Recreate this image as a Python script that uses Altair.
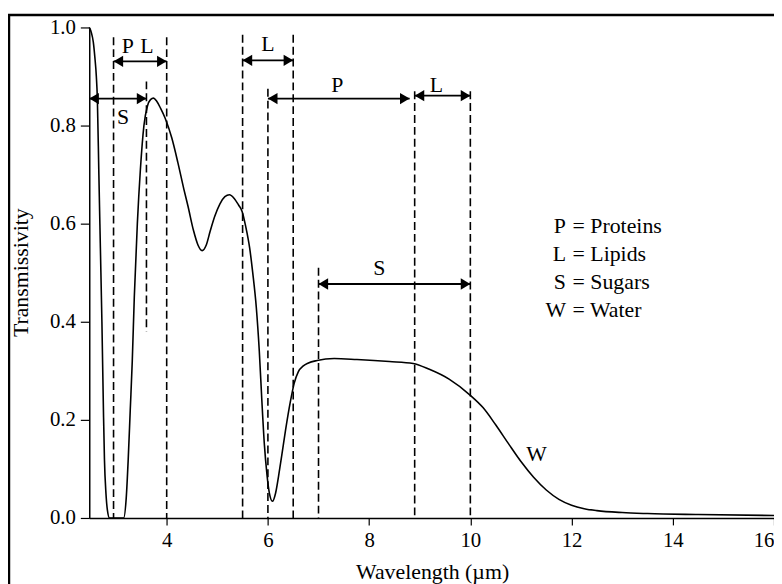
import altair as alt
import pandas as pd

# ---- curve W (water transmissivity) ----
wavelength = [2.47, 2.51, 2.55, 2.58, 2.61, 2.63, 2.66, 2.69, 2.72, 2.75, 2.77, 2.80, 2.83, 2.87,
              3.15, 3.20, 3.24, 3.28, 3.32, 3.36, 3.42, 3.48, 3.55, 3.62, 3.68, 3.74, 3.80, 3.88,
              3.97, 4.10, 4.22, 4.34, 4.42, 4.53, 4.62, 4.70, 4.78, 4.86, 4.95, 5.05, 5.15, 5.24,
              5.33, 5.42, 5.49, 5.56, 5.64, 5.70, 5.77, 5.83, 5.88, 5.93, 5.98, 6.03, 6.09, 6.15,
              6.21, 6.27, 6.35, 6.44, 6.52, 6.60, 6.70, 6.80, 6.97, 7.31, 7.76, 8.40, 8.87, 9.19,
              9.58, 10.0, 10.25, 10.5, 10.75, 11.0, 11.25, 11.5, 11.75, 12.0, 12.25, 12.5, 13.0,
              13.5, 14.5, 16.0]
transmissivity = [1.0, 0.99, 0.97, 0.94, 0.90, 0.855, 0.70, 0.55, 0.40, 0.22, 0.12, 0.05, 0.015, 0.0,
                  0.0, 0.04, 0.12, 0.22, 0.32, 0.45, 0.60, 0.71, 0.80, 0.84, 0.853, 0.856, 0.85, 0.835,
                  0.815, 0.775, 0.725, 0.67, 0.636, 0.586, 0.556, 0.545, 0.556, 0.585, 0.615, 0.64, 0.655, 0.659,
                  0.652, 0.638, 0.625, 0.595, 0.55, 0.50, 0.43, 0.34, 0.24, 0.15, 0.09, 0.05, 0.034, 0.05,
                  0.085, 0.125, 0.18, 0.235, 0.275, 0.298, 0.31, 0.316, 0.321, 0.325, 0.323, 0.319, 0.315, 0.303,
                  0.283, 0.250, 0.225, 0.19, 0.152, 0.115, 0.083, 0.057, 0.038, 0.026, 0.019, 0.015, 0.011,
                  0.009, 0.007, 0.005]

x_ticks = [4, 6, 8, 10, 12, 14, 16]
y_ticks = [0.0, 0.2, 0.4, 0.6, 0.8, 1.0]

# ---- dashed band limits ----
dash_x = [2.95, 3.6, 4.0, 5.5, 6.0, 6.5, 7.0, 8.9, 10.0]
dash_top = [0.98, 0.89, 0.98, 0.985, 0.875, 0.985, 0.51, 0.87, 0.87]
dash_bottom = [0.0, 0.38, 0.0, 0.0, 0.0, 0.0, 0.0, 0.0, 0.0]

# ---- double arrows ----
arrow_x1 = [2.95, 2.47, 5.5, 6.0, 8.9, 7.0]
arrow_x2 = [4.0, 3.6, 6.5, 8.8, 10.0, 10.0]
arrow_y = [0.931, 0.855, 0.933, 0.855, 0.861, 0.477]

# ---- band labels ----
label_text = ["P", "L", "S", "L", "P", "L", "S", "W"]
label_x = [3.23, 3.61, 3.14, 6.0, 7.37, 9.33, 8.2, 11.31]
label_y = [0.963, 0.963, 0.818, 0.966, 0.882, 0.882, 0.509, 0.131]

# ---- key ----
key_symbol = ["P", "L", "S", "W"]
key_name = ["= Proteins", "= Lipids", "= Sugars", "= Water"]
key_y = [0.596, 0.539, 0.481, 0.424]
key_sym_x = 11.89
key_name_x = 12.02

FONT = "Liberation Serif"

curve_df = pd.DataFrame({"x": wavelength, "y": transmissivity})
dash_df = pd.DataFrame({"x": dash_x, "y": dash_top, "y2": dash_bottom})
arrow_df = pd.DataFrame({"x1": arrow_x1, "x2": arrow_x2, "y": arrow_y})
label_df = pd.DataFrame({"t": label_text, "x": label_x, "y": label_y})
key_df = pd.DataFrame({"s": key_symbol, "n": key_name, "y": key_y,
                       "xs": [key_sym_x] * 4, "xn": [key_name_x] * 4})

xscale = alt.Scale(domain=[2.47, 16], nice=False, zero=False)
yscale = alt.Scale(domain=[0, 1], nice=False)

xaxis = alt.Axis(values=x_ticks, format="d", title="Wavelength (µm)", grid=False,
                 tickSize=7, labelPadding=5, labelFontSize=21, labelFont=FONT,
                 titleFont=FONT, titleFontSize=22, titleFontWeight="normal",
                 titleBaseline="alphabetic", titleY=61, titleX=346, titleAlign="center",
                 domainColor="black", tickColor="black", labelColor="black", titleColor="black",
                 domainWidth=1.5, tickWidth=1.2)
yaxis = alt.Axis(values=y_ticks, format=".1f", title="Transmissivity", grid=False,
                 tickSize=9, labelPadding=5, labelFontSize=21, labelFont=FONT,
                 titleFont=FONT, titleFontSize=22, titleFontWeight="normal",
                 titleAngle=270, titleBaseline="alphabetic", titleX=-62, titleY=247,
                 titleAlign="center",
                 domainColor="black", tickColor="black", labelColor="black", titleColor="black",
                 domainWidth=1.5, tickWidth=1.2)

curve = alt.Chart(curve_df).mark_line(color="black", strokeWidth=1.6, interpolate="monotone").encode(
    x=alt.X("x:Q", scale=xscale, axis=xaxis),
    y=alt.Y("y:Q", scale=yscale, axis=yaxis),
)

dashes = alt.Chart(dash_df).mark_rule(color="black", strokeWidth=1.6, strokeDash=[8, 4]).encode(
    x="x:Q", y="y:Q", y2="y2:Q"
)

arrow_lines = alt.Chart(arrow_df).mark_rule(color="black", strokeWidth=1.8).encode(
    x="x1:Q", x2="x2:Q", y="y:Q"
)
head_right = alt.Chart(arrow_df).mark_point(
    shape="M0,0L-1.7,-1L-1.7,1Z", filled=True, color="black", opacity=1, size=130, strokeWidth=0
).encode(x="x2:Q", y="y:Q")
head_left = alt.Chart(arrow_df).mark_point(
    shape="M0,0L1.7,-1L1.7,1Z", filled=True, color="black", opacity=1, size=130, strokeWidth=0
).encode(x="x1:Q", y="y:Q")

labels = alt.Chart(label_df).mark_text(font=FONT, fontSize=22, color="black",
                                       baseline="middle", align="center").encode(
    x="x:Q", y="y:Q", text="t:N"
)

key_sym = alt.Chart(key_df).mark_text(font=FONT, fontSize=22, color="black",
                                      baseline="middle", align="right").encode(
    x="xs:Q", y="y:Q", text="s:N"
)
key_txt = alt.Chart(key_df).mark_text(font=FONT, fontSize=22, color="black",
                                      baseline="middle", align="left").encode(
    x="xn:Q", y="y:Q", text="n:N"
)

frame = alt.Chart(pd.DataFrame({"a": [0]})).mark_rect(
    filled=False, stroke="black", strokeWidth=2.5, fill=None
).encode(x=alt.value(-81), x2=alt.value(800), y=alt.value(-12.5), y2=alt.value(700))

chart = alt.layer(frame, dashes, arrow_lines, head_right, head_left, curve, labels, key_sym, key_txt).properties(
    width=691, height=495,
    autosize=alt.AutoSizeParams(type="none"),
    padding={"left": 82, "top": 17, "right": 0, "bottom": 64},
    background="white",
).configure_view(stroke=None)

chart.save("out.html", embed_options={"renderer": "svg", "actions": False})
